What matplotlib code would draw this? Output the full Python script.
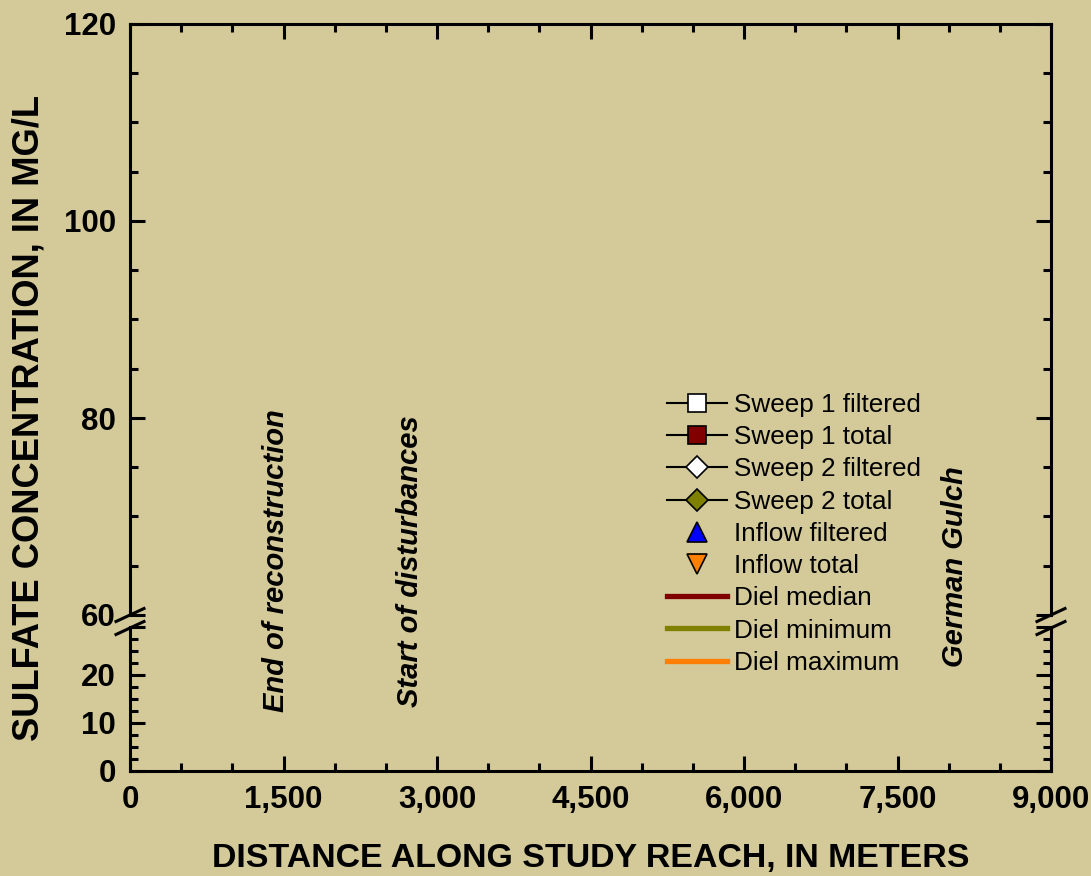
import matplotlib
matplotlib.use("Agg")
import matplotlib.pyplot as plt
from matplotlib.lines import Line2D
from matplotlib.ticker import MultipleLocator, FuncFormatter

plt.rcParams["font.family"] = ["Liberation Sans", "DejaVu Sans"]

# ---- data -------------------------------------------------------------
sweep1_filtered_x, sweep1_filtered_y = [], []
sweep1_total_x, sweep1_total_y = [], []
sweep2_filtered_x, sweep2_filtered_y = [], []
sweep2_total_x, sweep2_total_y = [], []
inflow_filtered_x, inflow_filtered_y = [], []
inflow_total_x, inflow_total_y = [], []
diel_x = []
diel_median, diel_minimum, diel_maximum = [], [], []

landmark_names = ["End of reconstruction", "Start of disturbances", "German Gulch"]
landmark_distance = [1430, 2740, 8060]
landmark_base = [12.3, 13.3, 21.7]

x_limits = (0, 9000)
upper_limits = (60, 120)
lower_limits = (0, 30)

# ---- styling ----------------------------------------------------------
BG = "#D3C999"
LW = 2.2
TICK_FS = 22.5

fig = plt.figure(figsize=(10.91, 8.76), dpi=100, facecolor=BG)
W, H = 1091, 876
left, right = 130 / W, 1051 / W
ax_up = fig.add_axes([left, (H - 615) / H, right - left, (615 - 24) / H])
ax_lo = fig.add_axes([left, (H - 771) / H, right - left, (771 - 627) / H])

for ax in (ax_up, ax_lo):
    ax.set_facecolor(BG)
    ax.set_xlim(*x_limits)
    for s in ax.spines.values():
        s.set_linewidth(LW)
    ax.xaxis.set_major_locator(MultipleLocator(1500))
    ax.xaxis.set_minor_locator(MultipleLocator(500))
    ax.tick_params(which="both", direction="in", width=LW, right=True,
                   labelsize=TICK_FS, pad=10)
    ax.tick_params(which="major", length=11)
    ax.tick_params(which="minor", length=6)

# upper panel
ax_up.set_ylim(*upper_limits)
ax_up.yaxis.set_major_locator(MultipleLocator(20))
ax_up.yaxis.set_minor_locator(MultipleLocator(5))
ax_up.spines["bottom"].set_visible(False)
ax_up.tick_params(which="both", bottom=False, labelbottom=False, top=True)

# lower panel
ax_lo.set_ylim(*lower_limits)
ax_lo.yaxis.set_major_locator(MultipleLocator(10))
ax_lo.yaxis.set_minor_locator(MultipleLocator(2.5))
ax_lo.yaxis.set_major_formatter(FuncFormatter(lambda v, p: "" if v > 20 else f"{v:.0f}"))
ax_lo.spines["top"].set_visible(False)
ax_lo.tick_params(which="both", top=False)
ax_lo.xaxis.set_major_formatter(FuncFormatter(lambda v, p: f"{v:,.0f}"))

for ax in (ax_up, ax_lo):
    for lbl in ax.get_yticklabels() + ax.get_xticklabels():
        lbl.set_fontweight("bold")

# ---- series (one per legend entry) -----------------------------------
handles = []
handles += ax_up.plot(sweep1_filtered_x, sweep1_filtered_y, "-", color="black", lw=1.5,
                      marker="s", ms=12.5, mfc="white", mec="black", mew=1.2,
                      label="Sweep 1 filtered")
handles += ax_up.plot(sweep1_total_x, sweep1_total_y, "-", color="black", lw=1.5,
                      marker="s", ms=12.5, mfc="#800000", mec="black", mew=1.2,
                      label="Sweep 1 total")
handles += ax_up.plot(sweep2_filtered_x, sweep2_filtered_y, "-", color="black", lw=1.5,
                      marker="D", ms=11, mfc="white", mec="black", mew=1.2,
                      label="Sweep 2 filtered")
handles += ax_up.plot(sweep2_total_x, sweep2_total_y, "-", color="black", lw=1.5,
                      marker="D", ms=11, mfc="#808000", mec="black", mew=1.2,
                      label="Sweep 2 total")
handles += ax_up.plot(inflow_filtered_x, inflow_filtered_y, "none",
                      marker="^", ms=15, mfc="#0000FF", mec="black", mew=1.2,
                      label="Inflow filtered")
handles += ax_up.plot(inflow_total_x, inflow_total_y, "none",
                      marker="v", ms=15, mfc="#FF8000", mec="black", mew=1.2,
                      label="Inflow total")
handles += ax_up.plot(diel_x, diel_median, "-", color="#800000", lw=3.8, label="Diel median")
handles += ax_up.plot(diel_x, diel_minimum, "-", color="#808000", lw=3.8, label="Diel minimum")
handles += ax_up.plot(diel_x, diel_maximum, "-", color="#FF8000", lw=3.8, label="Diel maximum")

fig.legend(handles=handles, loc="upper left",
           bbox_to_anchor=(667 / W, 1 - 393 / H), bbox_transform=fig.transFigure,
           frameon=False, fontsize=18.8, borderpad=0, borderaxespad=0,
           handlelength=2.3, handletextpad=0.27, labelspacing=0.315)

# ---- landmark labels --------------------------------------------------
for name, xd, yb in zip(landmark_names, landmark_distance, landmark_base):
    ax_lo.text(xd, yb, name, rotation=90, ha="center", va="bottom",
               fontsize=21, fontweight="bold", fontstyle="italic", clip_on=False,
               zorder=5)

# ---- axis-break marks -------------------------------------------------
dx, dy = 14 / W, 6.5 / H
for xs in (left, right):
    for yc in ((H - 615) / H, (H - 628) / H):
        fig.add_artist(Line2D([xs - dx, xs + dx], [yc - dy, yc + dy],
                              transform=fig.transFigure, color="black", lw=LW))

# ---- axis titles ------------------------------------------------------
fig.text(591 / W, 1 - 859 / H, "DISTANCE ALONG STUDY REACH, IN METERS",
         ha="center", va="center", fontsize=24.4, fontweight="bold")
fig.text(29 / W, 1 - 418 / H, "SULFATE CONCENTRATION, IN MG/L",
         ha="center", va="center", rotation=90, fontsize=26.2, fontweight="bold")

fig.savefig("out.png", dpi=100, facecolor=BG)
